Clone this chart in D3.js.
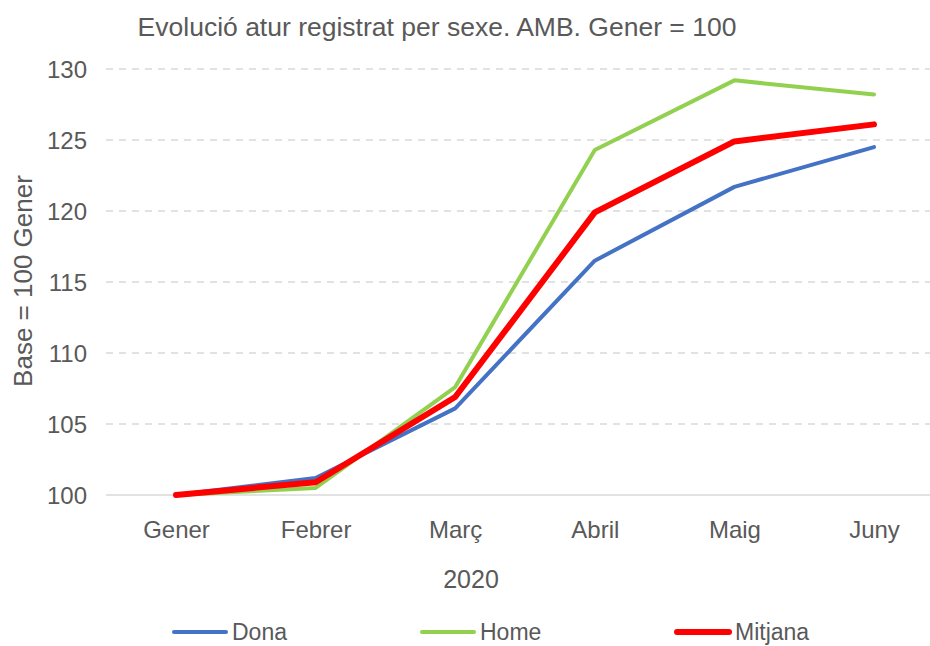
<!DOCTYPE html>
<html>
<head>
<meta charset="utf-8">
<script src="https://cdn.jsdelivr.net/npm/d3@7"></script>
<style>
  body { margin: 0; background: #fff; overflow: hidden; }
  text { font-family: "Liberation Sans", Arial, sans-serif; fill: #595959; }
</style>
</head>
<body>
<div id="chart"></div>
<script>
const months = ["Gener", "Febrer", "Març", "Abril", "Maig", "Juny"];
const dona = [100, 101.2, 106.1, 116.5, 121.7, 124.5];
const home = [100, 100.5, 107.6, 124.3, 129.2, 128.2];
const mitjana = [100, 100.9, 106.9, 119.9, 124.9, 126.1];
const yTicks = [100, 105, 110, 115, 120, 125, 130];

const series = [
  { name: "Dona", values: dona, color: "#4472C4", width: 4 },
  { name: "Home", values: home, color: "#92D050", width: 4 },
  { name: "Mitjana", values: mitjana, color: "#FF0000", width: 6 },
];

const width = 930, height = 646;
const margin = { left: 106 };

const svg = d3.select("#chart").append("svg")
  .attr("width", width)
  .attr("height", height);

const x = d3.scalePoint()
  .domain(months)
  .range([176, 874]);

const y = d3.scaleLinear()
  .domain([100, 130])
  .range([495, 69]);

// title
svg.append("text")
  .attr("x", 437)
  .attr("y", 36)
  .attr("text-anchor", "middle")
  .style("font-size", "26.5px")
  .text("Evolució atur registrat per sexe. AMB. Gener = 100");

// gridlines
svg.append("g")
  .selectAll("line")
  .data(yTicks.filter((d) => d !== 100))
  .join("line")
  .attr("x1", margin.left)
  .attr("x2", width)
  .attr("y1", (d) => y(d))
  .attr("y2", (d) => y(d))
  .attr("stroke", "#d9d9d9")
  .attr("stroke-width", 1.5)
  .attr("stroke-dasharray", "7,6");

// baseline
svg.append("line")
  .attr("x1", margin.left)
  .attr("x2", width)
  .attr("y1", y(100))
  .attr("y2", y(100))
  .attr("stroke", "#d9d9d9")
  .attr("stroke-width", 1.5);

// y axis labels
const yAxis = svg.append("g")
  .attr("transform", "translate(87,0)")
  .call(d3.axisLeft(y).tickValues(yTicks).tickSize(0).tickPadding(0));
yAxis.select(".domain").remove();
yAxis.selectAll("text")
  .attr("dy", "0.36em")
  .style("font-size", "24px")
  .style("fill", "#595959")
  .style("font-family", "\"Liberation Sans\", Arial, sans-serif");

// x axis labels
const xAxis = svg.append("g")
  .attr("transform", `translate(0,${y(100)})`)
  .call(d3.axisBottom(x).tickSize(0).tickPadding(0));
xAxis.select(".domain").remove();
xAxis.selectAll("text")
  .attr("dy", 0)
  .attr("y", 43)
  .style("font-size", "24px")
  .style("fill", "#595959")
  .style("font-family", "\"Liberation Sans\", Arial, sans-serif");

// axis titles
svg.append("text")
  .attr("x", 471)
  .attr("y", 588)
  .attr("text-anchor", "middle")
  .style("font-size", "25px")
  .text("2020");

svg.append("text")
  .attr("transform", "translate(32,281) rotate(-90)")
  .attr("text-anchor", "middle")
  .style("font-size", "26px")
  .text("Base = 100 Gener");

// lines
const line = d3.line()
  .x((d, i) => x(months[i]))
  .y((d) => y(d));

svg.append("g")
  .selectAll("path")
  .data(series)
  .join("path")
  .attr("d", (d) => line(d.values))
  .attr("fill", "none")
  .attr("stroke", (d) => d.color)
  .attr("stroke-width", (d) => d.width)
  .attr("stroke-linejoin", "round")
  .attr("stroke-linecap", "round");

// legend (nudged up a little so descenders stay inside the frame)
const legendX = [174, 422, 677];
const legend = svg.append("g")
  .selectAll("g")
  .data(series)
  .join("g")
  .attr("transform", (d, i) => `translate(${legendX[i]},632)`);

legend.append("line")
  .attr("x1", 0)
  .attr("x2", 52)
  .attr("stroke", (d) => d.color)
  .attr("stroke-width", (d) => d.width)
  .attr("stroke-linecap", "round");

legend.append("text")
  .attr("x", 58)
  .attr("y", 8)
  .style("font-size", "23px")
  .text((d) => d.name);
</script>
</body>
</html>
